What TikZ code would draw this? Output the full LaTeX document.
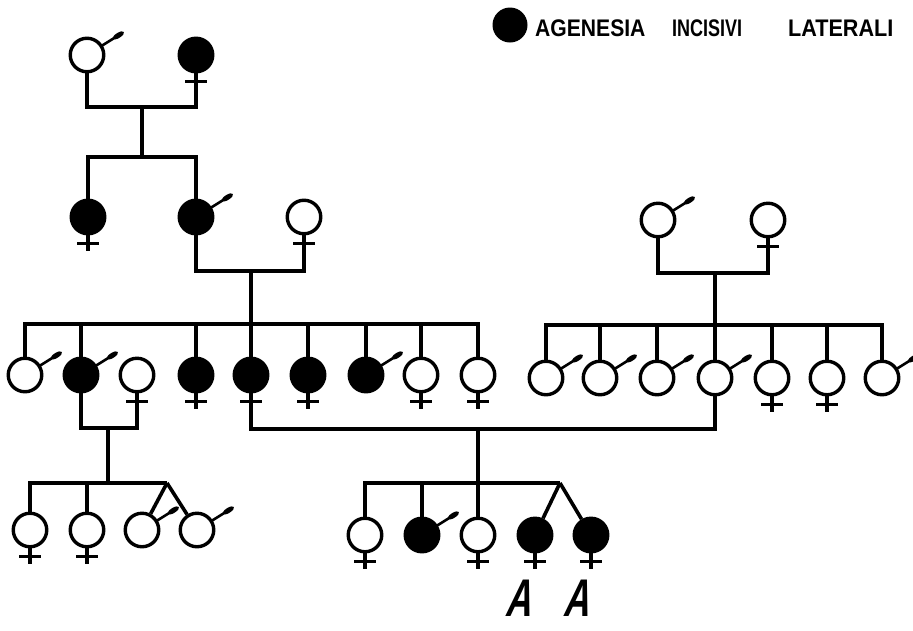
\documentclass[tikz,border=0pt]{standalone}
\usepackage{fontspec}
\newfontfamily\legfont{Liberation Sans}
\usetikzlibrary{calc}
\tikzset{
  ind/.style={circle, draw=black, line width=3.4pt, minimum size=33.5pt, inner sep=0pt, fill=white},
  aff/.style={ind, fill=black},
  ln/.style={line width=3.6pt},
  crossln/.style={line width=3.2pt},
  legtxt/.style={font=\legfont\bfseries\fontsize{24}{24}\selectfont, inner sep=0pt, anchor=south west},
  alab/.style={font=\legfont\bfseries\itshape\fontsize{53}{53}\selectfont, inner sep=0pt, text depth=0pt, anchor=base, xscale=0.68, xslant=0.15}
}
\newcommand\malesym[1]{%
  \begin{scope}[shift={(#1)}, rotate=32]
    \draw[line width=2.6pt] (17,0) -- (33,0);
    \fill (37,0) ellipse (6.5 and 2.6);
  \end{scope}}
\newcommand\femsym[1]{%
  \draw[crossln] (#1.south) -- ++(0,-16);
  \draw[crossln] ($(#1.south)+(-11,-8)$) -- ++(22,0);}
\begin{document}
\begin{tikzpicture}[x=1pt,y=1pt]
\useasboundingbox (0,0) rectangle (913,-630);
% Generation I
\node[ind] (I1) at (87,-55) {};
\node[aff] (I2) at (196,-55) {};
\coordinate (m1) at (142,-107);
\coordinate (s1) at (142,-157);
% Generation II
\node[aff] (II1) at (88,-217) {};
\node[aff] (II2) at (196,-217) {};
\node[ind] (II3) at (304,-217) {};
\coordinate (m2) at (251,-271);
\coordinate (s2) at (251,-324);
% Generation III left
\node[ind] (III1) at (25,-375) {};
\node[aff] (III2) at (81,-375) {};
\node[ind] (III3) at (137,-375) {};
\node[aff] (III4) at (196,-375) {};
\node[aff] (III5) at (251,-375) {};
\node[aff] (III6) at (308,-375) {};
\node[aff] (III7) at (366,-375) {};
\node[ind] (III8) at (421,-375) {};
\node[ind] (III9) at (478,-375) {};
\coordinate (m3) at (108,-428);
\coordinate (s3) at (108,-483);
% Right family
\node[ind] (R1) at (658,-220) {};
\node[ind] (R2) at (768,-220) {};
\coordinate (m4) at (715,-273);
\coordinate (s4) at (715,-325);
\node[ind] (C1) at (546,-378) {};
\node[ind] (C2) at (600,-378) {};
\node[ind] (C3) at (657,-378) {};
\node[ind] (C4) at (715,-378) {};
\node[ind] (C5) at (772,-378) {};
\node[ind] (C6) at (827,-378) {};
\node[ind] (C7) at (882,-378) {};
\coordinate (m5) at (478,-429);
\coordinate (s5) at (478,-483);
% Generation IV left
\node[ind] (IV1) at (30,-530) {};
\node[ind] (IV2) at (87,-530) {};
\node[ind] (IV3) at (142,-530) {};
\node[ind] (IV4) at (197,-530) {};
\coordinate (t1) at (167,-483);
% Generation V
\node[ind] (V1) at (365,-535) {};
\node[aff] (V2) at (422,-535) {};
\node[ind] (V3) at (478,-535) {};
\node[aff] (V4) at (535,-535) {};
\node[aff] (V5) at (591,-535) {};
\coordinate (t2) at (560,-483);
% connectors
\draw[ln] (I1.south) |- (m1) -| (I2.south);
\draw[ln] (m1) -- (s1);
\draw[ln] (II1.north) |- (s1) -| (II2.north);
\draw[ln] (II2.south) |- (m2) -| (II3.south);
\draw[ln] (m2) -- (s2);
\draw[ln] (III1.north) |- (s2) -| (III9.north);
\foreach \n in {III2,III4,III5,III6,III7,III8} \draw[ln] (\n.north) -- (\n.north |- s2);
\draw[ln] (III2.south) |- (m3) -| (III3.south);
\draw[ln] (m3) -- (s3);
\draw[ln] (IV1.north) |- (t1);
\draw[ln] (IV2.north) -- (IV2.north |- s3);
\draw[ln] (t1) -- (IV3);
\draw[ln] (t1) -- (IV4);
\draw[ln] (R1.south) |- (m4) -| (R2.south);
\draw[ln] (m4) -- (s4);
\draw[ln] (C1.north) |- (s4) -| (C7.north);
\foreach \n in {C2,C3,C4,C5,C6} \draw[ln] (\n.north) -- (\n.north |- s4);
\draw[ln] (III5.south) |- (m5) -| (C4.south);
\draw[ln] (m5) -- (V3.north);
\draw[ln] (V1.north) |- (t2);
\draw[ln] (V2.north) -- (V2.north |- s5);
\draw[ln] (t2) -- (V4);
\draw[ln] (t2) -- (V5);
% sex symbols
\foreach \n in {I1,II2,III1,III2,III7,R1,C1,C2,C3,C4,C7,IV3,IV4,V2} {\malesym{\n}}
\foreach \n in {I2,II1,II3,III3,III4,III5,III6,III8,III9,R2,C5,C6,IV1,IV2,V1,V3,V4,V5} {\femsym{\n}}
% legend
\node[circle, fill=black, minimum size=35pt, inner sep=0pt] (leg) at (510,-25) {};
\node[legtxt, xscale=0.88] (w1) at (535,-37) {AGENESIA};
\node[legtxt, xscale=0.75] (w2) at (672,-37) {INCISIVI};
\node[legtxt, xscale=0.9] (w3) at (788,-37) {LATERALI};
% labels
\node[alab] (a1) at (520,-616) {A};
\node[alab] (a2) at (578,-616) {A};
\end{tikzpicture}
\end{document}
